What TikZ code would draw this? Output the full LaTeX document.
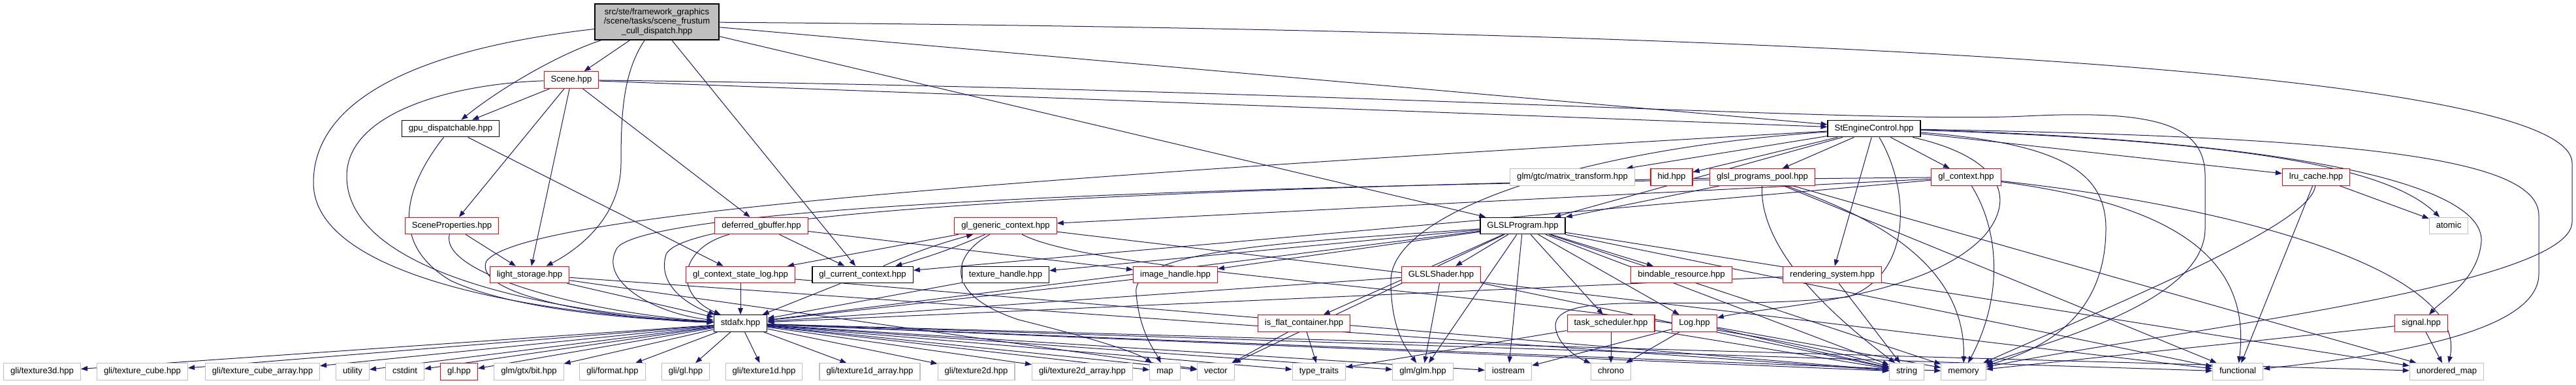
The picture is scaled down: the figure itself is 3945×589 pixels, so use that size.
\documentclass[tikz,border=0pt]{standalone}
\usepackage{fontspec}
\setmainfont{Liberation Sans}
\usetikzlibrary{arrows.meta}
\definecolor{edgec}{HTML}{191970}
\definecolor{grayb}{HTML}{BFBFBF}
\definecolor{redb}{HTML}{FF0000}
\newcommand{\fsz}{\fontsize{13.1}{14.7}\selectfont}
\pgfdeclarelayer{bg}
\pgfdeclarelayer{paper}
\pgfsetlayers{paper,bg,main}
\tikzset{
 nbox/.style={draw, fill=white, font=\fsz, inner xsep=10.5pt, inner ysep=0pt, minimum height=25.5pt, text height=9.6pt, text depth=2.7pt},
 blackbox/.style={nbox, draw=black, line width=1.3pt},
 redbox/.style={nbox, draw=redb, line width=1.1pt},
 graybox/.style={nbox, draw=grayb, line width=1.1pt},
 dep/.style={draw=edgec, line width=1pt, -{Triangle[length=10pt,width=7.5pt]}, fill=none},
}
\begin{document}
\begin{tikzpicture}[x=1pt,y=-1pt]
\useasboundingbox (0,0) rectangle (3945,589);
\begin{pgfonlayer}{paper}
\fill[white] (0,0) rectangle (3945,589);
\end{pgfonlayer}
% nodes
\node[draw=black, line width=1.3pt, fill=grayb, font=\fsz, align=center, minimum width=190pt, minimum height=55pt, inner sep=2pt] (root) at (1006,33.5) {src/ste/framework\_graphics\\/scene/tasks/scene\_frustum\\\_cull\_dispatch.hpp};
\node[redbox] (scene) at (875,122.5) {Scene.hpp};
\node[blackbox] (gpu) at (690,197) {gpu\_dispatchable.hpp};
\node[blackbox] (stec) at (2870,197) {StEngineControl.hpp};
\node[graybox] (mtx) at (2408,271.5) {glm/gtc/matrix\_transform.hpp};
\node[redbox] (hid) at (2560,271.5) {hid.hpp};
\node[redbox] (gpp) at (2699,271.5) {glsl\_programs\_pool.hpp};
\node[redbox] (glctx) at (3011,271.5) {gl\_context.hpp};
\node[redbox] (lru) at (3547,271.5) {lru\_cache.hpp};
\node[redbox] (sprop) at (692,346) {SceneProperties.hpp};
\node[redbox] (dgb) at (1166,346) {deferred\_gbuffer.hpp};
\node[redbox] (ggc) at (1540,346) {gl\_generic\_context.hpp};
\node[blackbox] (glslp) at (2332,346) {GLSLProgram.hpp};
\node[graybox] (atomic) at (3750,346) {atomic};
\node[redbox] (ls) at (811,421) {light\_storage.hpp};
\node[redbox] (gcsl) at (1134,421) {gl\_context\_state\_log.hpp};
\node[blackbox] (gcc) at (1321,421) {gl\_current\_context.hpp};
\node[blackbox] (th) at (1540,421) {texture\_handle.hpp};
\node[redbox] (ih) at (1800,421) {image\_handle.hpp};
\node[redbox] (glsls) at (2207,421) {GLSLShader.hpp};
\node[redbox] (bres) at (2575,421) {bindable\_resource.hpp};
\node[redbox] (rsys) at (2806,421) {rendering\_system.hpp};
\node[blackbox] (stdafx) at (1134,495.5) {stdafx.hpp};
\node[redbox] (ifc) at (1997,495.5) {is\_flat\_container.hpp};
\node[redbox] (tsch) at (2467,495.5) {task\_scheduler.hpp};
\node[redbox] (log) at (2595,495.5) {Log.hpp};
\node[redbox] (signal) at (3708,495.5) {signal.hpp};
\node[graybox] (t3d) at (64.5,569.5) {gli/texture3d.hpp};
\node[graybox] (tcube) at (218,569.5) {gli/texture\_cube.hpp};
\node[graybox] (tcubea) at (402,569.5) {gli/texture\_cube\_array.hpp};
\node[graybox] (utility) at (540,569.5) {utility};
\node[graybox] (cstdint) at (620,569.5) {cstdint};
\node[redbox] (glhpp) at (703,569.5) {gl.hpp};
\node[graybox] (bit) at (810,569.5) {glm/gtx/bit.hpp};
\node[graybox] (format) at (938,569.5) {gli/format.hpp};
\node[graybox] (gligl) at (1050,569.5) {gli/gl.hpp};
\node[graybox] (t1d) at (1170,569.5) {gli/texture1d.hpp};
\node[graybox] (t1da) at (1332,569.5) {gli/texture1d\_array.hpp};
\node[graybox] (t2d) at (1495,569.5) {gli/texture2d.hpp};
\node[graybox] (t2da) at (1657.5,569.5) {gli/texture2d\_array.hpp};
\node[graybox] (map) at (1784,569.5) {map};
\node[graybox] (vector) at (1862,569.5) {vector};
\node[graybox] (ttraits) at (2020,569.5) {type\_traits};
\node[graybox] (glm) at (2179,569.5) {glm/glm.hpp};
\node[graybox] (iostream) at (2310,569.5) {iostream};
\node[graybox] (chrono) at (2467,569.5) {chrono};
\node[graybox] (string) at (2920,569.5) {string};
\node[graybox] (memory) at (3007,569.5) {memory};
\node[graybox] (functional) at (3427,569.5) {functional};
\node[graybox] (umap) at (3747,569.5) {unordered\_map};
% edges
\begin{pgfonlayer}{bg}
% root
\draw[dep] (root) -- (scene);
\draw[dep] (root) .. controls (850,85) and (760,140) .. (gpu);
\draw[dep] (root) .. controls (600,80) and (480,170) .. (480,280) .. controls (480,420) and (800,480) .. (stdafx);
\draw[dep] (root) .. controls (955,110) and (951,170) .. (951,250) .. controls (951,330) and (890,380) .. (ls);
\draw[dep] (root) -- (gcc);
\draw[dep] (root) -- (stec);
\draw[dep] (root) -- (glslp);
\draw[dep] (root) .. controls (2600,45) and (3939,100) .. (3939,250) -- (3939,340) .. controls (3939,440) and (3300,510) .. (memory);
% Scene
\draw[dep] (scene) -- (gpu);
\draw[dep] (scene) .. controls (700,128) and (531,170) .. (531,270) .. controls (531,420) and (850,480) .. (stdafx);
\draw[dep] (scene) -- (sprop);
\draw[dep] (scene) -- (ls);
\draw[dep] (scene) -- (dgb);
\draw[dep] (scene) -- (stec);
\draw[dep] (scene) .. controls (2000,135) and (2850,190) .. (3100,178) .. controls (3300,168) and (3377,190) .. (3377,270) -- (3377,350) .. controls (3377,460) and (3150,520) .. (memory);
% gpu
\draw[dep] (gpu) .. controls (625,280) and (590,370) .. (690,430) .. controls (800,480) and (1000,490) .. (stdafx);
\draw[dep] (gpu) -- (gcsl);
% SceneProperties
\draw[dep] (sprop) -- (ls);
\draw[dep] (sprop) .. controls (672,420) and (900,480) .. (stdafx);
% light_storage
\draw[dep] (ls) -- (stdafx);
\draw[dep] (ls) -- (vector);
\draw[dep] (ls) -- (string);
% deferred
\draw[dep] (dgb) .. controls (1040,380) and (1030,450) .. (stdafx);
\draw[dep] (dgb) -- (gcc);
\draw[dep] (dgb) -- (ih);
% gl_context_state_log
\draw[dep] (gcsl) -- (stdafx);
\draw[dep] (gcsl) -- (string);
% gl_current_context / generic
\draw[dep] (gcc) -- (stdafx);
\draw[dep] (gcc) to[bend left=4] (ggc);
\draw[dep] (ggc) to[bend left=4] (gcc);
\draw[dep] (ggc) -- (gcsl);
\draw[dep] (ggc) .. controls (1460,390) and (1440,450) .. (1560,490) .. controls (1680,520) and (1740,540) .. (map);
\draw[dep] (ggc) .. controls (1700,430) and (2500,450) .. (string);
\draw[dep] (ggc) -- (functional);
% handles
\draw[dep] (th) -- (stdafx);
\draw[dep] (ih) -- (stdafx);
% GLSLProgram
\draw[dep] (glslp) -- (glsls);
\draw[dep] (glslp) -- (ifc);
\draw[dep] (glslp) -- (glm);
\draw[dep] (glslp) -- (iostream);
\draw[dep] (glslp) -- (tsch);
\draw[dep] (glslp) -- (log);
\draw[dep] (glslp) -- (bres);
\draw[dep] (glslp) -- (th);
\draw[dep] (glslp) -- (ih);
\draw[dep] (glslp) -- (stdafx);
\draw[dep] (glslp) .. controls (2000,370) and (1730,380) .. (1740,450) .. controls (1745,510) and (1770,540) .. (map);
\draw[dep] (glslp) -- (string);
\draw[dep] (glslp) -- (memory);
\draw[dep] (glslp) -- (functional);
\draw[dep] (glslp) -- (umap);
\draw[dep] (glslp) -- (vector);
% GLSLShader
\draw[dep] (glsls) -- (glm);
\draw[dep] (glsls) -- (stdafx);
\draw[dep] (glsls) -- (string);
% is_flat_container
\draw[dep] (ifc) -- (ttraits);
\draw[dep] (ifc) -- (vector);
% task_scheduler
\draw[dep] (tsch) -- (chrono);
\draw[dep] (tsch) -- (ttraits);
\draw[dep] (tsch) -- (string);
% Log
\draw[dep] (log) -- (chrono);
\draw[dep] (log) -- (iostream);
\draw[dep] (log) -- (string);
\draw[dep] (log) -- (memory);
% rendering_system
\draw[dep] (rsys) -- (string);
\draw[dep] (rsys) -- (stdafx);
% StEngineControl
\draw[dep] (stec) -- (mtx);
\draw[dep] (stec) -- (hid);
\draw[dep] (stec) -- (gpp);
\draw[dep] (stec) -- (glctx);
\draw[dep] (stec) -- (lru);
\draw[dep] (stec) -- (rsys);
\draw[dep] (stec) -- (glslp);
\draw[dep] (stec) .. controls (3400,215) and (3650,250) .. (atomic);
\draw[dep] (stec) .. controls (3500,215) and (3805,280) .. (3800,370) .. controls (3795,430) and (3740,460) .. (signal);
\draw[dep] (stec) .. controls (3600,210) and (3888,240) .. (3888,330) -- (3888,420) .. controls (3888,520) and (3600,550) .. (functional);
\draw[dep] (stec) .. controls (3150,220) and (3225,260) .. (3225,350) .. controls (3225,470) and (3150,530) .. (memory);
\draw[dep] (stec) .. controls (2925,290) and (2930,420) .. (2830,455) .. controls (2600,480) and (2380,440) .. (2382,500) .. controls (2384,530) and (2420,550) .. (chrono);
\draw[dep] (stec) .. controls (3060,240) and (3090,300) .. (3040,360) .. controls (2950,460) and (2700,470) .. (log);
\draw[dep] (stec) .. controls (2400,230) and (2130,330) .. (2130,430) .. controls (2130,500) and (2150,530) .. (glm);
\draw[dep] (stec) .. controls (1500,275) and (800,330) .. (745,400) .. controls (720,455) and (950,490) .. (stdafx);
% glsl_programs_pool
\draw[dep] (gpp) -- (glslp);
\draw[dep] (gpp) .. controls (1800,290) and (1050,320) .. (1020,390) .. controls (1005,440) and (1060,470) .. (stdafx);
\draw[dep] (gpp) .. controls (2694,380) and (2800,480) .. (string);
\draw[dep] (gpp) .. controls (2860,330) and (3010,400) .. (memory);
\draw[dep] (gpp) -- (functional);
\draw[dep] (gpp) -- (umap);
% gl_context
\draw[dep] (glctx) -- (ggc);
\draw[dep] (glctx) -- (gcc);
\draw[dep] (glctx) .. controls (2000,280) and (1000,310) .. (945,380) .. controls (915,430) and (1000,480) .. (stdafx);
\draw[dep] (glctx) .. controls (3060,350) and (3070,450) .. (memory);
\draw[dep] (glctx) .. controls (3300,310) and (3450,380) .. (functional);
\draw[dep] (glctx) .. controls (3450,320) and (3780,420) .. (umap);
% lru_cache
\draw[dep] (lru) -- (atomic);
\draw[dep] (lru) -- (functional);
\draw[dep] (lru) .. controls (3540,340) and (3300,440) .. (memory);
% signal
\draw[dep] (signal) -- (memory);
\draw[dep] (signal) -- (umap);
% stdafx to leaves
\foreach \t in {t3d,tcube,tcubea,utility,cstdint,glhpp,bit,format,gligl,t1d,t1da,t2d,t2da,map,vector,ttraits,glm,iostream,string,memory,functional,umap}
  \draw[dep] (stdafx) -- (\t);
\end{pgfonlayer}
\end{tikzpicture}
\end{document}
